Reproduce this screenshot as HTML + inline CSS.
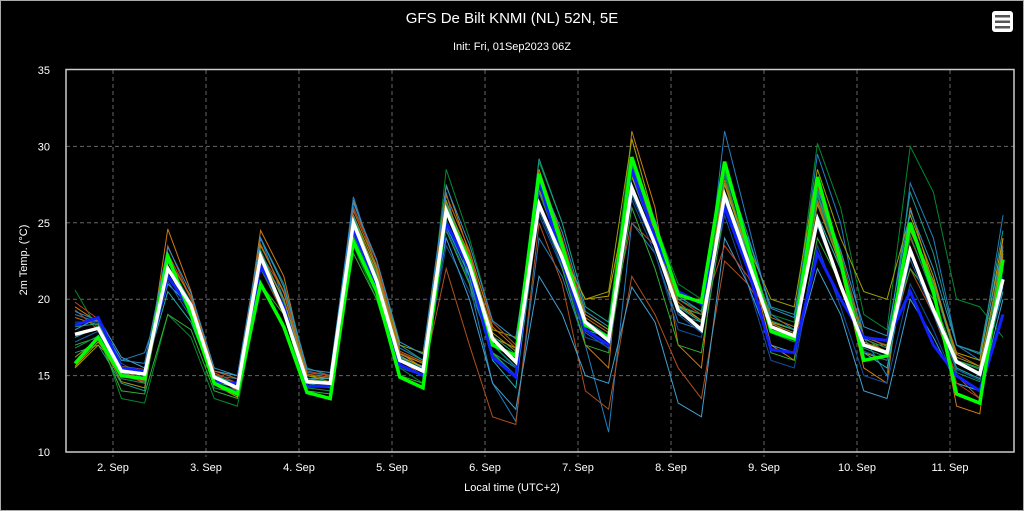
<!DOCTYPE html>
<html><head><meta charset="utf-8"><style>
html,body{margin:0;padding:0;background:#000;}
svg{display:block;font-family:"Liberation Sans","DejaVu Sans",sans-serif;}
</style></head><body>
<svg id="chart" width="1024" height="511">
<rect x="0.5" y="0.5" width="1023" height="510" fill="#000" stroke="#aaa"/>
<text x="512" y="23" fill="#fff" font-size="15" text-anchor="middle">GFS De Bilt KNMI (NL) 52N, 5E</text>
<text x="512" y="50" fill="#fff" font-size="11" text-anchor="middle">Init: Fri, 01Sep2023 06Z</text>
<g>
<rect x="992" y="11" width="21" height="21" rx="3" fill="#fff"/>
<rect x="995" y="15" width="15" height="2.5" fill="#555"/><rect x="995" y="20.5" width="15" height="2.5" fill="#555"/><rect x="995" y="26" width="15" height="2.5" fill="#555"/>
</g>
<g id="grid"></g>
<g id="series"></g>
<rect x="66" y="69.5" width="948" height="382.5" fill="none" stroke="#ccc" stroke-width="1.5"/>
<g id="axes"></g>
<text x="512" y="491" fill="#fff" font-size="11" text-anchor="middle">Local time (UTC+2)</text>
<text transform="translate(27,260) rotate(-90)" fill="#fff" font-size="11" text-anchor="middle">2m Temp. (°C)</text>
</svg>
<script>
const yTicks=[10,15,20,25,30,35];
const dayLabels=["2. Sep","3. Sep","4. Sep","5. Sep","6. Sep","7. Sep","8. Sep","9. Sep","10. Sep","11. Sep"];
const control=[17.7,18.1,15.3,15.1,22,19.6,14.9,14.2,22.8,19.2,14.6,14.5,25,21.2,16,15.3,25.8,22.2,17.4,15.9,26.2,22.7,18.5,17.3,27.3,23.6,19.3,18,26.8,22.5,18.2,17.6,25.2,20.9,17,16.5,23.2,19.3,15.9,15.1,21.3];
const greenRun=[15.8,17.5,15,14.8,22.8,19,14.5,13.8,21,18.2,13.9,13.5,23.8,20.5,14.9,14.2,25.8,22.5,17,16.3,28.2,23.5,18.3,17.5,29.3,24.8,20.3,19.8,29,23.5,17.9,17.4,28,22.5,16,16.3,25,20.5,13.8,13.2,22.6];
const blueRun=[18.3,18.8,15.5,15.3,21.5,19.3,14.6,14.5,22.2,19.5,14.3,14.3,24.5,21,15.7,15,25,22,16.2,14.9,27.8,22.5,18,17,28.5,24,20.5,19.7,26,22,16.7,16.5,23,20,17.5,17.3,20.5,17,15,14,19];
const m1=[19.5,18.5,15.2,14.5,24.6,20.5,15,14,24.5,21.5,15,14.8,26.5,22,16.5,15.5,27.5,23,17.5,16,28.5,24,17,15.5,31,26,17,15.5,29,23,17,16,27.5,22,15.5,14.5,26,21,13,12.5,24];
const m2=[20.6,18,13.5,13.2,19,17.5,13.5,13,21,18,13.8,13.5,23.5,20,15.5,14.5,28.5,24,18.5,17,29,25,19.5,18.5,30.5,25,21,20,28,23,19,18.5,30.2,26,19,18,30,27,20,19.5,17.5];
const m3=[19,18.5,16,16.5,21,19.5,15,14.8,24,20,15.2,15,26.7,22,16.8,16,27,21,14.5,12,24,21.5,17,11.3,25,23,18.5,18,31,25,19,18,29.5,25,17.5,15,27.6,24,17,16,25.5];
const m4=[19.3,18,15.5,14.6,23.5,20,15.2,14.2,22,19,14.5,14.2,24,20.5,16,15,22,17,12.3,11.8,25,21,14,12.8,21.5,19,15.5,13.5,22.5,21,18.5,18,27.5,23,17.5,16.5,22,19,15,13.5,23.5];
const m5=[16.5,17,14.5,14,23,20,15,14.5,24,21,15.5,15,26,22.5,17,16,26.5,21.5,16.5,15.5,29.2,25,19.5,18.5,28,24,19,18.5,27,24,19.5,19,27,22.5,17.5,17,27,23,17,16.5,24.5];
const m6=[15.5,17,15.5,15.2,22.5,19.5,14.5,14,23.5,20.5,15,14.8,25.5,22,17,16.5,26,22.5,18,17.5,27,23,20,20.5,30.5,25,20,20,29,23.5,20,19.5,28.5,24,20.5,20,25.5,21.5,16,15,23];
const m7=[18.5,18.5,15.8,15,21.5,19,14.5,14,22.5,19.5,14.3,14.2,24.5,21,15.5,15,23.5,20.5,17,15.5,25.5,22,17.5,17,26.5,23,18,17.5,25.5,21,16,15.5,23.5,19.5,15,14.5,21,18,14.5,14,21.5];
const m8=[18,18.8,16.2,15.5,21,19.5,15.3,15,23,20,14.8,14.8,25.5,21.5,16.3,15.5,24,20,14.5,12.8,21.5,19,15,14.5,20.8,18.5,13.2,12.3,24,21,17,16.5,22,19,14,13.5,20,17.5,14.5,14,20];
const m9=[19.8,18.7,15,14.6,23,20,15.2,14.5,23,20.5,15.3,15,26,22.5,16.5,15.8,26,23,18.5,17,27,24,19,18,25,23.5,20,19,23.5,21.5,18.5,17.5,26.5,22.5,17.5,17,24,20.5,14.5,13.5,22.5];
const m10=[17,17.5,14,13.8,19,18,14,13.5,21,19,14,13.8,23,20,15,14.5,24.5,21,16.5,15,26.5,22,17,16.5,26,22,17,16.5,26,22,16.5,16,24,21,17,17,22,20,16,15.5,21];
const m11=[15.6,17.2,15.2,14.8,22,19,14.4,13.6,22.5,19.5,14.7,14.6,24.6,21.5,16.2,15.6,25,22,17.5,16.8,26,23,20,20.2,28,24.5,19.5,19,27.5,23,18.5,18,25.5,22,16.5,16,24.5,21,16.5,16,24];
const m12=[17.5,18.2,15.5,15.2,20.5,18.5,14.6,14.2,22.5,19,14.5,14.2,25,21,16,15.2,24.8,21.5,16,14.2,26,22.5,18,17.5,27,23.5,19.5,18.5,27,23,18,17.5,25.5,22,16.5,15.5,23,19.5,15.5,14.8,20.5];
const m13=[18.8,18.3,15.6,15.4,22.6,20.2,15.3,14.8,23.6,20.4,15.1,14.9,25.8,22.2,16.6,15.9,26.8,23.2,18.2,16.8,27.5,23.8,18.8,17.8,28.4,24.6,19.8,18.6,27.8,23.4,18.8,18.2,26.4,22.3,17.6,16.9,24.6,21.2,16.4,15.6,22.8];
const m14=[16.8,17.6,14.8,14.5,21.6,19.2,14.2,13.8,22,19.2,14.2,14,24.2,20.8,15.6,15,25.2,21.8,17,15.6,27,23.2,18.4,17.2,28.6,24.2,19.6,19,28.2,23,17.8,17.2,26.8,22,16.8,16.2,24.2,20.2,15.2,14.6,22];
const m15=[19.2,18.6,16,15.8,23.4,20.4,15.5,15,24,20.8,15.4,15.2,26.3,22.6,17.2,16.4,27.4,23.6,18.6,17.4,28,24.4,19.2,18.2,29,25.2,20.2,19.2,28.8,24.2,19.4,18.8,27.2,23.2,18.2,17.6,25.8,22,17,16.4,23.4];
const m16=[17.2,17.9,15.1,14.9,21.2,18.8,14.4,14,22.4,19.6,14.6,14.4,24.8,21.4,16,15.3,24.6,21.2,16.4,15,25.8,22.2,17.8,16.8,26.8,23.4,19,17.8,26.4,22.4,18,17.4,24.8,20.8,16.6,16,22.6,19,15.4,14.7,20.8];
const m17=[18.2,18.4,15.4,15,22.4,19.8,15,14.4,23.2,19.8,14.8,14.6,25.4,21.6,16.2,15.4,26.2,22.6,17.6,16.4,27.8,23.6,18.6,17.6,28.8,24.6,20,19.2,28.4,23.6,18.6,18,26.8,22.6,17.4,16.8,25,21,16,15.4,22.6];
const m18=[16.2,17.4,14.6,14.2,22.2,19.4,14.8,14.2,22.8,20,15,14.6,25.2,21.8,16.4,15.8,26.4,22.8,17.8,16.6,27.2,23.4,19,18,28.2,24.2,19.6,18.6,27.6,23.2,18.4,17.8,26.2,22.2,17.2,16.6,24.8,21.2,16.2,15.6,23.2];
const members=[m1,m2,m3,m4,m5,m6,m7,m8,m9,m10,m11,m12,m13,m14,m15,m16,m17,m18];
const memberColors=["#d07a10","#008a30","#2080c0","#b05020","#1a9a8a","#a0a000","#1050a0","#40a0d0","#c04020","#30b030","#c0a000","#20b0b0","#c06a10","#109060","#3090c8","#2060b0","#18a070","#a09020"];

const NS="http://www.w3.org/2000/svg";
const y=v=>452-(v-10)*15.28;
const x=i=>75+i*23.2;
const dayX=k=>113+k*93;
const grid=document.getElementById('grid'),axes=document.getElementById('axes'),ser=document.getElementById('series');
yTicks.forEach(t=>{
 if(t>10&&t<35){const l=document.createElementNS(NS,'line');
 
 
 l.setAttribute('x1',66);l.setAttribute('x2',1014);l.setAttribute('y1',y(t));l.setAttribute('y2',y(t));
 l.setAttribute('stroke','#666');l.setAttribute('stroke-dasharray','4,3');grid.appendChild(l);}
 const tx=document.createElementNS(NS,'text');
 
 
 tx.setAttribute('x',50);tx.setAttribute('y',y(t)+4);tx.setAttribute('fill','#fff');tx.setAttribute('font-size','11');tx.setAttribute('text-anchor','end');
 tx.textContent=t;axes.appendChild(tx);
});
dayLabels.forEach((d,k)=>{
 const l=document.createElementNS(NS,'line');
 
 
 l.setAttribute('x1',dayX(k));l.setAttribute('x2',dayX(k));l.setAttribute('y1',70);l.setAttribute('y2',457);
 l.setAttribute('stroke','#666');l.setAttribute('stroke-dasharray','4,3');grid.appendChild(l);
 const tx=document.createElementNS(NS,'text');
 
 
 tx.setAttribute('x',dayX(k));tx.setAttribute('y',471);tx.setAttribute('fill','#fff');tx.setAttribute('font-size','11');tx.setAttribute('text-anchor','middle');
 tx.textContent=d;axes.appendChild(tx);
});
function line(data,color,w,name){
 const p=document.createElementNS(NS,'polyline');
 
 
 p.setAttribute('points',data.map((v,i)=>x(i)+','+y(v)).join(' '));
 p.setAttribute('fill','none');p.setAttribute('stroke',color);p.setAttribute('stroke-width',w);p.setAttribute('stroke-linejoin','miter');
 ser.appendChild(p);
}
members.forEach((m,i)=>line(m,memberColors[i],1,'ensemble-member-line'));
line(blueRun,'#1020ff',3,'blue-run-line');
line(greenRun,'#00ff00',3.5,'green-run-line');
line(control,'#ffffff',3.5,'control-run-line');
</script>
</body></html>
